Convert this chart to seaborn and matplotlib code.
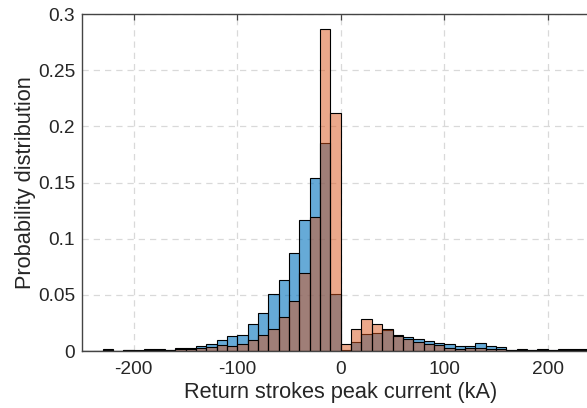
import numpy as np
import pandas as pd
import matplotlib
matplotlib.use("Agg")
import matplotlib.pyplot as plt
import seaborn as sns

# Bin left edges (kA), bin width 10
bin_left = list(range(-250, 250, 10))

# Probability per bin, series 1 (blue)
blue_vals = [0, 0, 0.0018, 0, 0.0010, 0.0005, 0.002, 0.002, 0.001, 0.003,
             0.003, 0.0048, 0.0065, 0.0095, 0.013, 0.0146, 0.0244, 0.034, 0.0506, 0.063,
             0.087, 0.1164, 0.1536, 0.185, 0.051, 0.001, 0.008, 0.0155, 0.016, 0.0185,
             0.014, 0.0125, 0.011, 0.009, 0.0074, 0.006, 0.0045, 0.0045, 0.0074, 0.0048,
             0.004, 0.001, 0.0015, 0.001, 0.002, 0.001, 0.0018, 0.0016, 0.0016, 0.0016]

# Probability per bin, series 2 (orange)
orange_vals = [0, 0, 0.0005, 0, 0.0008, 0.0003, 0.001, 0.001, 0.001, 0.0015,
               0.0015, 0.0025, 0.0036, 0.005, 0.0045, 0.0065, 0.0095, 0.014, 0.020, 0.030,
               0.0446, 0.069, 0.1196, 0.287, 0.2116, 0.006, 0.020, 0.0286, 0.024, 0.020,
               0.013, 0.0104, 0.0083, 0.006, 0.0054, 0.003, 0.002, 0.0024, 0.003, 0.0018,
               0.0018, 0.0008, 0.0008, 0.0006, 0.0008, 0.0006, 0.0008, 0.0008, 0.0008, 0.0008]

x_ticks = [-200, -100, 0, 100, 200]
y_ticks = [0, 0.05, 0.1, 0.15, 0.2, 0.25, 0.3]
y_ticklabels = ["0", "0.05", "0.1", "0.15", "0.2", "0.25", "0.3"]

sns.set_style("white")
plt.rcParams["font.family"] = ["Liberation Sans", "DejaVu Sans"]

bw = 10
centers = np.array(bin_left, dtype=float) + bw / 2
brange = (bin_left[0], bin_left[-1] + bw)

fig = plt.figure(figsize=(5.87, 4.08), dpi=100)
ax = fig.add_axes([82 / 587, 57 / 408, 517.5 / 587, 337 / 408])

df_b = pd.DataFrame({"x": centers, "w": blue_vals})
df_o = pd.DataFrame({"x": centers, "w": orange_vals})
sns.histplot(data=df_b, x="x", weights="w", binwidth=bw, binrange=brange, stat="count",
             color="#0072BD", alpha=0.6, edgecolor="black", linewidth=0.8, ax=ax)
sns.histplot(data=df_o, x="x", weights="w", binwidth=bw, binrange=brange, stat="count",
             color="#D95319", alpha=0.5, edgecolor="black", linewidth=0.8, ax=ax)

ax.set_xlim(-250, 250)
ax.set_ylim(0, 0.3)
ax.set_xticks(x_ticks)
ax.set_xticklabels([str(t) for t in x_ticks])
ax.set_yticks(y_ticks)
ax.set_yticklabels(y_ticklabels)

ax.set_axisbelow(True)
ax.grid(True, linestyle=(0, (5, 4)), color="#d9d9d9", linewidth=0.9)

for s in ax.spines.values():
    s.set_color("#444444")
    s.set_linewidth(1.0)
ax.tick_params(direction="in", length=4, width=0.9, color="#444444",
               labelsize=13.8, labelcolor="#262626", top=True, right=True)
ax.tick_params(axis="x", pad=7)
ax.tick_params(axis="y", pad=5)

ax.set_xlabel("Return strokes peak current (kA)", fontsize=15.7, color="#262626", labelpad=3)
ax.set_ylabel("Probability distribution", fontsize=15.7, color="#262626", labelpad=1.5)

fig.savefig("out.png", dpi=100)
